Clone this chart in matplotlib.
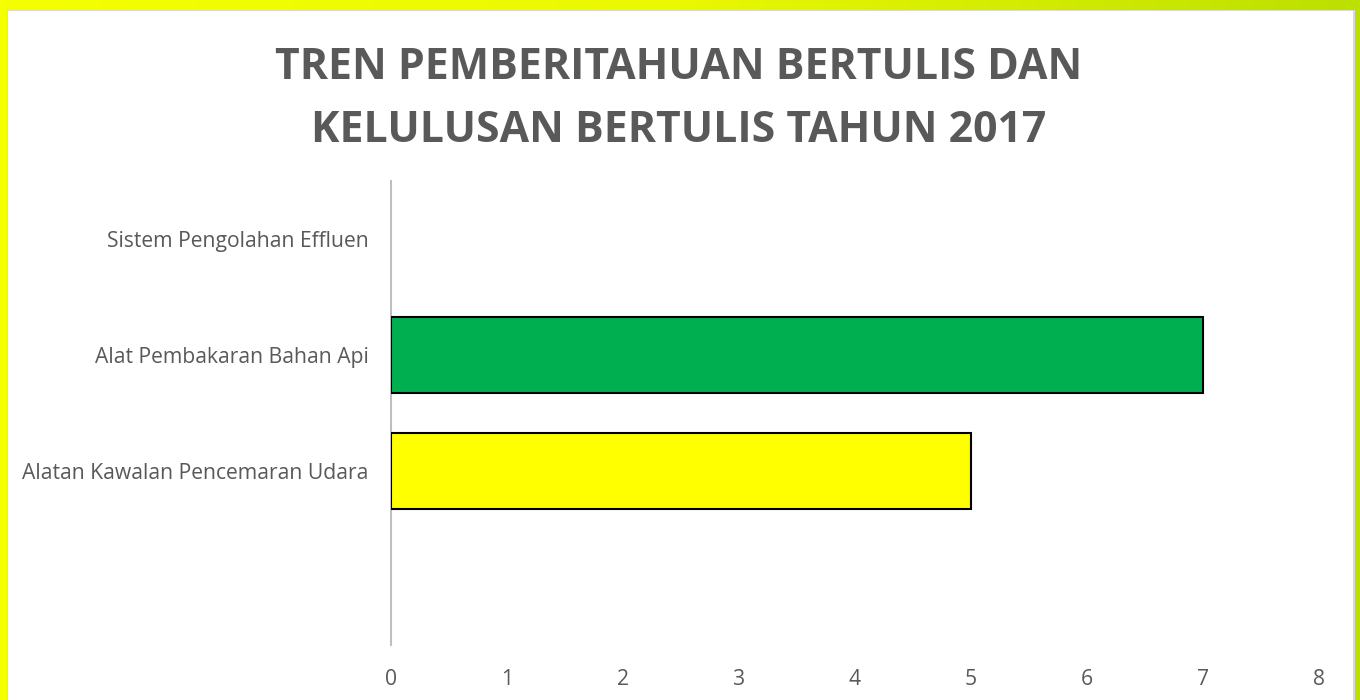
import numpy as np
import matplotlib.pyplot as plt
from matplotlib.colors import LinearSegmentedColormap
from matplotlib.patches import Rectangle

plt.rcParams['font.family'] = ['Open Sans', 'DejaVu Sans']

# data (bottom to top, first slot is an empty category)
categories = ['', 'Alatan Kawalan Pencemaran Udara', 'Alat Pembakaran Bahan Api',
              'Sistem Pengolahan Effluen']
values = [0, 5, 7, 0]
bar_colors = ['white', '#FFFF00', '#00B050', '#00B050']
title = 'TREN PEMBERITAHUAN BERTULIS DAN\nKELULUSAN BERTULIS TAHUN 2017'

W, H = 1360, 700
fig = plt.figure(figsize=(W / 100, H / 100), dpi=100)

# gradient frame behind the white chart area
bg = fig.add_axes([0, 0, 1, 1], zorder=-10)
cmap = LinearSegmentedColormap.from_list('frame', ['#F5FF00', '#EAF800', '#BCE000'])
bg.imshow(np.linspace(0, 1, 256)[None, :], aspect='auto', cmap=cmap,
          extent=[0, W, 0, H], origin='lower')
bg.add_patch(Rectangle((7, 0), 1348, H - 10, facecolor='#D9D9D9', edgecolor='none'))
bg.add_patch(Rectangle((8, 0), 1345, H - 11, facecolor='white', edgecolor='none'))
bg.set_xlim(0, W)
bg.set_ylim(0, H)
bg.axis('off')

ax = fig.add_axes([391 / W, 1 - 645 / H, (1319 - 391) / W, (645 - 181) / H])
ax.set_facecolor('none')
y = np.arange(len(categories))
show = [v > 0 for v in values]
ax.barh(y[show], np.array(values)[show], height=0.66,
        color=np.array(bar_colors)[show], edgecolor='black', linewidth=1.5, zorder=3)

ax.set_xlim(0, 8)
ax.set_ylim(-0.5, len(categories) - 0.5)
ax.set_xticks(range(0, 9))
ax.set_yticks(y)
ax.set_yticklabels(categories)
ax.tick_params(axis='both', length=0, labelsize=15.2, colors='#595959')
ax.tick_params(axis='x', pad=17.5)
ax.tick_params(axis='y', pad=16)
for s in ['top', 'right', 'bottom']:
    ax.spines[s].set_visible(False)
ax.spines['left'].set_color('#BFBFBF')
ax.spines['left'].set_linewidth(1.5)

fig.text(679 / W, 1 - 99 / H, title, ha='center', va='center', fontsize=30.8,
         fontweight='bold', color='#595959', linespacing=1.6)

fig.savefig('out.png', dpi=100)
